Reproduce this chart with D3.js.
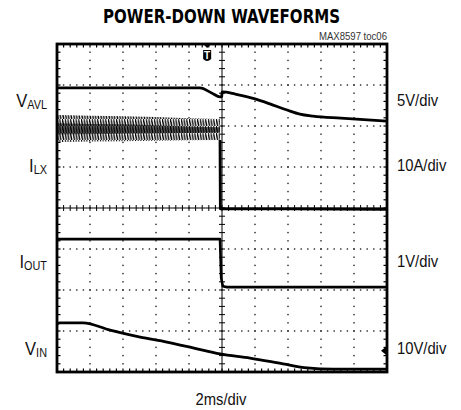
<!DOCTYPE html>
<html><head><meta charset="utf-8">
<script src="https://d3js.org/d3.v7.min.js"></script>
<style>body{margin:0;background:#fff}svg{display:block}</style>
</head><body>
<script>
// ---- data (time in ms, 2ms/div; amplitude in divisions from bottom) ----
const title = "POWER-DOWN WAVEFORMS";
const figId = "MAX8597 toc06";
const xLabel = "2ms/div";
const channels = ["VAVL", "ILX", "IOUT", "VIN"];
const scalesText = ["5V/div", "10A/div", "1V/div", "10V/div"];
const triggerT = 9.1;

const vavlT = [0, 8.66, 9.4, 9.88, 9.99, 10.0, 10.8, 12.0, 12.9, 13.94, 14.72, 15.52, 17.2, 20];
const vavlV = [6.93, 6.93, 6.80, 6.71, 6.72, 6.83, 6.78, 6.66, 6.54, 6.39, 6.29, 6.24, 6.19, 6.12];

const ilxRippleT = [0, 2, 4, 6, 8, 9.88];
const ilxRippleHi = [6.27, 6.25, 6.24, 6.22, 6.19, 6.17];
const ilxRippleLo = [5.61, 5.62, 5.63, 5.64, 5.65, 5.66];
const ilxAfterT = [9.88, 9.9, 10.0, 14, 20];
const ilxAfterV = [5.66, 3.98, 3.98, 3.98, 3.97];

const ioutT = [0, 4, 8, 9.88, 9.95, 10.05, 10.3, 14, 20];
const ioutV = [3.24, 3.24, 3.24, 3.24, 2.3, 2.09, 2.07, 2.07, 2.07];

const vinT = [0, 0.18, 1.58, 3.22, 5.04, 6.66, 8.24, 9.88, 11.7, 13.7, 15.16, 16.72, 19.76, 20];
const vinV = [1.17, 1.20, 1.20, 1.02, 0.85, 0.73, 0.59, 0.44, 0.34, 0.20, 0.10, 0.07, 0.07, 0.07];

// ---- layout ----
const W = 461, H = 410;
const L = 57, R = 387, T = 44, B = 372;
const svg = d3.select("body").append("svg").attr("width", W).attr("height", H);
const x = d3.scaleLinear().domain([0, 20]).range([L, R]);
const y = d3.scaleLinear().domain([0, 8]).range([B, T]);
const font = "'Liberation Sans', Arial, sans-serif";
const SX = 0.87; // horizontal condensation to mimic a narrow face

function narrowText(px, py, anchor, size) {
  return svg.append("text").attr("transform", `translate(${px},${py}) scale(${SX},1)`)
    .attr("text-anchor", anchor).attr("font-family", font).attr("font-size", size).attr("fill", "#111");
}

// pattern for switching ripple
const defs = svg.append("defs");
const pat = defs.append("pattern").attr("id", "rip").attr("patternUnits", "userSpaceOnUse")
  .attr("width", 2.7).attr("height", 7);
pat.append("rect").attr("width", 2.7).attr("height", 7).attr("fill", "#fff");
pat.append("line").attr("x1", 0.2).attr("y1", 0).attr("x2", 1.6).attr("y2", 7)
  .attr("stroke", "#000").attr("stroke-width", 1.4);

// title
svg.append("text").attr("x", 221.5).attr("y", 23).attr("text-anchor", "middle")
  .attr("font-family", "'DejaVu Sans', sans-serif").attr("font-weight", "bold").attr("font-size", 20)
  .attr("textLength", 237).attr("lengthAdjust", "spacingAndGlyphs").text(title);
narrowText(387, 40, "end", 11).attr("fill", "#333").text(figId);

const g = svg.append("g");

// dotted grid
const xDiv = d3.range(1, 10).filter(k => k !== 5).map(k => k * 2);
const yDiv = d3.range(1, 8).filter(k => k !== 4);
yDiv.forEach(d => {
  d3.range(1, 50).forEach(i => {
    g.append("rect").attr("x", x(i * 0.4) - 0.7).attr("y", y(d) - 0.7)
      .attr("width", 1.4).attr("height", 1.4).attr("fill", "#222");
  });
});
xDiv.forEach(t => {
  d3.range(1, 40).forEach(i => {
    g.append("rect").attr("x", x(t) - 0.7).attr("y", y(i * 0.2) - 0.7)
      .attr("width", 1.4).attr("height", 1.4).attr("fill", "#222");
  });
});

// centre axes with ticks
g.append("line").attr("x1", L).attr("x2", R).attr("y1", y(4)).attr("y2", y(4))
  .attr("stroke", "#000").attr("stroke-width", 1);
g.append("line").attr("x1", x(10)).attr("x2", x(10)).attr("y1", T).attr("y2", B)
  .attr("stroke", "#000").attr("stroke-width", 1);
d3.range(1, 50).forEach(i => {
  g.append("line").attr("x1", x(i * 0.4)).attr("x2", x(i * 0.4))
    .attr("y1", y(4) - 3).attr("y2", y(4) + 3).attr("stroke", "#000").attr("stroke-width", 1);
  g.append("line").attr("x1", x(i * 0.4)).attr("x2", x(i * 0.4))
    .attr("y1", T).attr("y2", T + 3.5).attr("stroke", "#000").attr("stroke-width", 1.2);
  g.append("line").attr("x1", x(i * 0.4)).attr("x2", x(i * 0.4))
    .attr("y1", B).attr("y2", B - 3.5).attr("stroke", "#000").attr("stroke-width", 1.2);
});
d3.range(1, 40).forEach(i => {
  g.append("line").attr("x1", x(10) - 3).attr("x2", x(10) + 3)
    .attr("y1", y(i * 0.2)).attr("y2", y(i * 0.2)).attr("stroke", "#000").attr("stroke-width", 1);
  g.append("line").attr("x1", L).attr("x2", L + 3.5)
    .attr("y1", y(i * 0.2)).attr("y2", y(i * 0.2)).attr("stroke", "#000").attr("stroke-width", 1.2);
  g.append("line").attr("x1", R).attr("x2", R - 3.5)
    .attr("y1", y(i * 0.2)).attr("y2", y(i * 0.2)).attr("stroke", "#000").attr("stroke-width", 1.2);
});

// traces
const line = d3.line().x(d => x(d[0])).y(d => y(d[1]));
const smooth = d3.line().x(d => x(d[0])).y(d => y(d[1])).curve(d3.curveMonotoneX);
const trace = (ts, vs, w, gen) => g.append("path").datum(ts.map((t, i) => [t, vs[i]]))
  .attr("d", gen || line).attr("fill", "none").attr("stroke", "#000")
  .attr("stroke-width", w).attr("stroke-linejoin", "round");

// ILX ripple band
const band = d3.area().x(d => x(d[0])).y0(d => y(d[2])).y1(d => y(d[1]));
const bandData = ilxRippleT.map((t, i) => [t, ilxRippleHi[i], ilxRippleLo[i]]);
g.append("path").datum(bandData).attr("d", band).attr("fill", "url(#rip)");
const midData = ilxRippleT.map((t, i) => [t, ilxRippleHi[i] - 0.2, ilxRippleLo[i] + 0.18]);
g.append("path").datum(midData).attr("d", band).attr("fill", "#000").attr("opacity", 0.6);

trace(vavlT, vavlV, 2.8, smooth);
trace(ilxAfterT, ilxAfterV, 2.8);
trace(ioutT, ioutV, 2.6);
trace(vinT, vinV, 2.8, smooth);

// frame
g.append("rect").attr("x", L).attr("y", T).attr("width", R - L).attr("height", B - T)
  .attr("fill", "none").attr("stroke", "#000").attr("stroke-width", 2.8);

// trigger marker
const tx = x(triggerT);
g.append("path").attr("d", `M${tx - 4},${T} L${tx + 4},${T} L${tx},${T + 4} Z`).attr("fill", "#000");
g.append("path").attr("d", `M${tx - 4},${T + 6} L${tx + 4},${T + 6} L${tx + 4},${T + 15} Q${tx},${T + 19} ${tx - 4},${T + 15} Z`)
  .attr("fill", "#000");
svg.append("text").attr("x", tx).attr("y", T + 15).attr("text-anchor", "middle")
  .attr("font-family", font).attr("font-weight", "bold").attr("font-size", 10)
  .attr("fill", "#fff").text("T");

// ground marker for VIN (right side)
const gy = y(0.52);
g.append("path").attr("d", `M${R - 1},${gy - 4} L${R - 1},${gy + 4} L${R - 6},${gy} Z`).attr("fill", "#000");

// channel labels
const labelY = [107, 172, 268, 355];
const mains = ["V", "I", "I", "V"];
const subs = ["AVL", "LX", "OUT", "IN"];
channels.forEach((c, i) => {
  const t = narrowText(47, labelY[i], "end", 19);
  t.append("tspan").text(mains[i]);
  t.append("tspan").attr("font-size", 12.5).attr("dy", 2).text(subs[i]);
  narrowText(397, labelY[i] - 1, "start", 17).text(scalesText[i]);
});

narrowText(221, 405, "middle", 17).text(xLabel);
</script>
</body></html>
